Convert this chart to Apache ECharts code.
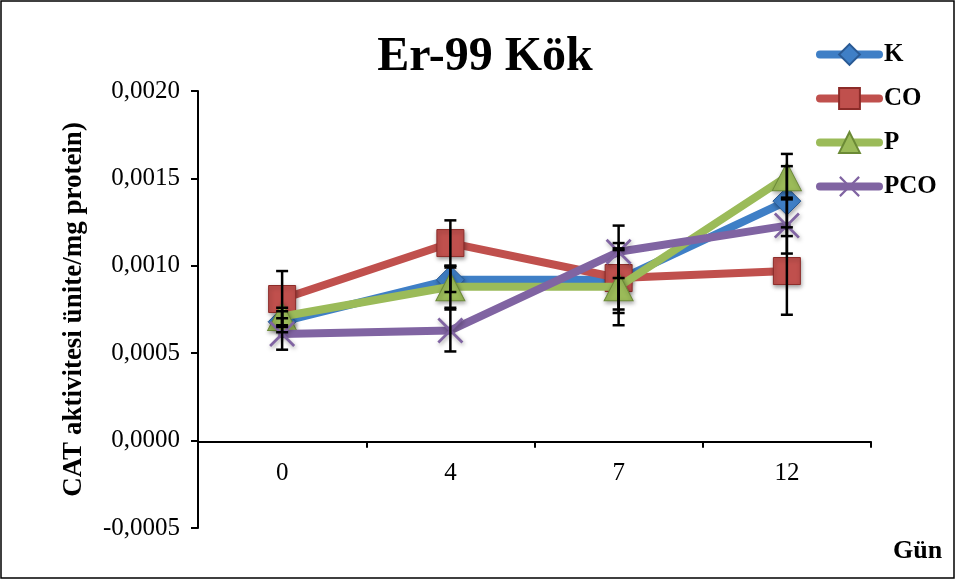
<!DOCTYPE html>
<html><head><meta charset="utf-8">
<script src="https://cdn.jsdelivr.net/npm/echarts@6/dist/echarts.min.js"></script>
<style>html,body{margin:0;padding:0;background:#fff}#c{width:956px;height:580px}</style>
</head><body><div id="c"></div>
<script>
const categories = ['0', '4', '7', '12'];
const seriesNames = ['K', 'CO', 'P', 'PCO'];
const valK = [0.00068, 0.00092, 0.00092, 0.00137];
const valCO = [0.00081, 0.00113, 0.00093, 0.00097];
const valP = [0.00071, 0.00088, 0.00088, 0.00151];
const valPCO = [0.00061, 0.00063, 0.00108, 0.00123];
const errK = [0.00006, 0.00007, 0.00017, 0.00020];
const errCO = [0.00016, 0.00013, 0.00020, 0.00025];
const errP = [0.00005, 0.00012, 0.00022, 0.00013];
const errPCO = [0.00009, 0.00012, 0.00015, 0.00016];
const yTicks = ['-0,0005', '0,0000', '0,0005', '0,0010', '0,0015', '0,0020'];

const colors = ['#3f7fc6', '#c0504d', '#9bbb59', '#8064a2'];
const borders = ['#2a5a94', '#8c2b28', '#6b8a36', '#6a4f8c'];
const symbols = ['diamond', 'rect', 'triangle',
  'path://M0,1.5 L1.5,0 L10,8.5 L18.5,0 L20,1.5 L11.5,10 L20,18.5 L18.5,20 L10,11.5 L1.5,20 L0,18.5 L8.5,10 Z'];
const sizes = [[28, 28], 27, [29, 28], 26];
const vals = [valK, valCO, valP, valPCO];
const errs = [errK, errCO, errP, errPCO];

const font = '"Liberation Serif", "Times New Roman", serif';
const chart = echarts.init(document.getElementById('c'));

const series = [];
vals.forEach((v, i) => {
  series.push({
    name: seriesNames[i], type: 'line', data: v,
    symbol: symbols[i], symbolSize: sizes[i],
    lineStyle: { color: colors[i], width: 8, cap: 'round' },
    itemStyle: { color: colors[i], borderColor: borders[i], borderWidth: i === 3 ? 0 : 1,
      shadowColor: 'rgba(0,0,0,0.35)', shadowBlur: 4, shadowOffsetX: 1, shadowOffsetY: 2 },
    z: 3 + i, animation: false
  });
});
vals.forEach((v, i) => {
  series.push({
    type: 'custom', name: seriesNames[i] + '_err', z: 20,
    data: v.map((x, j) => [j, x - errs[i][j], x + errs[i][j]]),
    renderItem: function (params, api) {
      const lo = api.coord([api.value(0), api.value(1)]);
      const hi = api.coord([api.value(0), api.value(2)]);
      const w = 6;
      const st = { stroke: '#000', lineWidth: 2.5 };
      return { type: 'group', children: [
        { type: 'line', shape: { x1: lo[0], y1: lo[1], x2: hi[0], y2: hi[1] }, style: st },
        { type: 'line', shape: { x1: lo[0] - w, y1: lo[1], x2: lo[0] + w, y2: lo[1] }, style: st },
        { type: 'line', shape: { x1: hi[0] - w, y1: hi[1], x2: hi[0] + w, y2: hi[1] }, style: st }
      ]};
    },
    animation: false, silent: true
  });
});

chart.setOption({
  animation: false,
  backgroundColor: '#fff',
  title: { text: 'Er-99 Kök', left: 480, top: 29, textAlign: 'center',
    textStyle: { fontFamily: font, fontWeight: 'bold', fontSize: 48, color: '#000' } },
  legend: {
    data: seriesNames, orient: 'vertical', left: 811, top: 37,
    itemWidth: 59, itemHeight: 26, itemGap: 19,
    lineStyle: { width: 8, cap: 'round' },
    itemStyle: { shadowBlur: 0, shadowOffsetX: 0, shadowOffsetY: 0 },
    textStyle: { fontFamily: font, fontWeight: 'bold', fontSize: 25, color: '#000' }
  },
  grid: { left: 198, top: 91, width: 673, height: 437 },
  xAxis: {
    type: 'category', data: categories, boundaryGap: true,
    offset: -86.3,
    axisLine: { onZero: false, lineStyle: { color: '#000', width: 2 } },
    axisTick: { show: true, length: 6, alignWithLabel: false, lineStyle: { color: '#000', width: 2 } },
    axisLabel: { fontFamily: font, fontSize: 25, color: '#000', margin: 19 },
    splitLine: { show: false }
  },
  yAxis: {
    type: 'value', min: -0.0005, max: 0.002, interval: 0.0005,
    axisLine: { show: true, lineStyle: { color: '#000', width: 2 } },
    axisTick: { show: true, length: 7, lineStyle: { color: '#000', width: 2 } },
    axisLabel: { fontFamily: font, fontSize: 25, color: '#000', margin: 18,
      formatter: function (v) { const idx = Math.round((v + 0.0005) / 0.0005); return yTicks[idx]; } },
    splitLine: { show: false },
    name: 'CAT aktivitesi ünite/mg protein)', nameLocation: 'middle', nameGap: 110,
    nameTextStyle: { fontFamily: font, fontWeight: 'bold', fontSize: 27, color: '#000' }
  },
  graphic: [
    { type: 'rect', shape: { x: 1, y: 1, width: 953, height: 577 },
      style: { fill: 'none', stroke: '#000', lineWidth: 1.5 }, z: 100 },
    { type: 'text', left: 893, top: 538, style: { text: 'Gün', font: 'bold 26px ' + font, fill: '#000' } }
  ],
  series: series
});
</script></body></html>
